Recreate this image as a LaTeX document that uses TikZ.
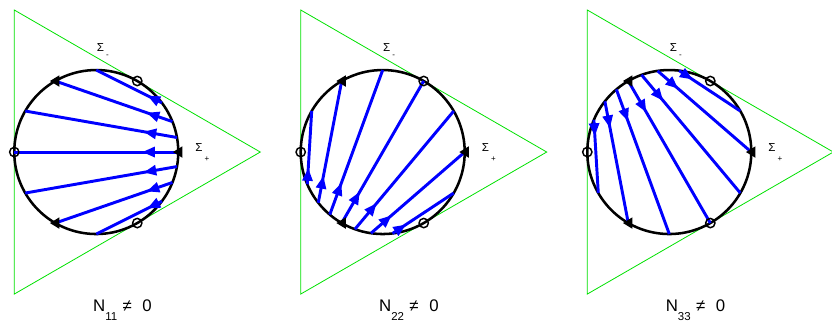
\documentclass[tikz,border=0pt]{standalone}
\usepackage{fontspec}
\setmainfont{Liberation Sans}
\usetikzlibrary{arrows.meta,decorations.markings,calc}
\definecolor{tgreen}{RGB}{0,225,0}
\definecolor{tblue}{RGB}{0,0,255}
\begin{document}
\begin{tikzpicture}[x=61.5pt,y=61.5pt,
  tri/.style={draw=tgreen, line width=0.6pt},
  kasner/.style={draw=black, line width=1.9pt},
  orbit/.style={color=tblue, line width=2.2pt, postaction={decorate},
    decoration={markings, mark=at position 0.22 with {\arrow{Triangle[length=9.5pt,width=7.5pt]}}}},
  taub/.style={circle, draw=black, line width=1.1pt, minimum size=7pt, inner sep=0pt},
  qmark/.style={fill=black},
  siglab/.style={inner sep=0pt, font=\fontsize{8.7}{10}\selectfont},
  sublab/.style={inner sep=0pt, font=\fontsize{6}{7}\selectfont},
  nlab/.style={inner sep=0pt, anchor=base, font=\fontsize{12.6}{14}\selectfont}
]
\useasboundingbox (-1.174,-2.073) rectangle (8.972,1.854);
\foreach \cx/\al/\nm/\lab in {0/0/a/11, 3.493/240/b/22, 6.988/120/c/33}{
\begin{scope}[shift={(\cx,0)}]
  \draw[tri] (2,0) -- (-1,1.7321) -- (-1,-1.7321) -- cycle;
  \draw[kasner] (0,0) circle (1);
  \pgfmathsetmacro\vx{2*cos(\al)}
  \pgfmathsetmacro\vy{2*sin(\al)}
  \foreach \d in {90,120,...,270}{
    \pgfmathsetmacro\s{3/(5-4*cos(\d))}
    \pgfmathsetmacro\ex{cos(\al+\d)}
    \pgfmathsetmacro\ey{sin(\al+\d)}
    \pgfmathsetmacro\sx{\vx+\s*(\ex-\vx)}
    \pgfmathsetmacro\sy{\vy+\s*(\ey-\vy)}
    \coordinate (S\nm\d) at (\sx,\sy);
    \coordinate (E\nm\d) at (\ex,\ey);
    \draw[orbit] (S\nm\d) -- (E\nm\d);
  }
  \node[taub] (T1\nm) at (180:1) {};
  \node[taub] (T2\nm) at (60:1) {};
  \node[taub] (T3\nm) at (300:1) {};
  \foreach \q in {0,120,240}{
    \fill[qmark] (\q:1) ++(-0.065,0) -- ++(0.115,0.07) -- ++(0,-0.14) -- cycle;
  }
  \node[siglab] (sm\nm) at (0.05,1.27) {Σ};
  \node[sublab] (smsub\nm) at (0.135,1.165) {-};
  \node[siglab] (sp\nm) at (1.253,0.06) {Σ};
  \node[sublab] (spsub\nm) at (1.35,-0.085) {+};
  \node[nlab] (N\nm) at (0.32,-1.939) {N\raisebox{-7.3pt}{\fontsize{8.6}{9}\selectfont\lab}\hspace{4pt}≠\hspace{8pt}0};
\end{scope}
}
\end{tikzpicture}
\end{document}
